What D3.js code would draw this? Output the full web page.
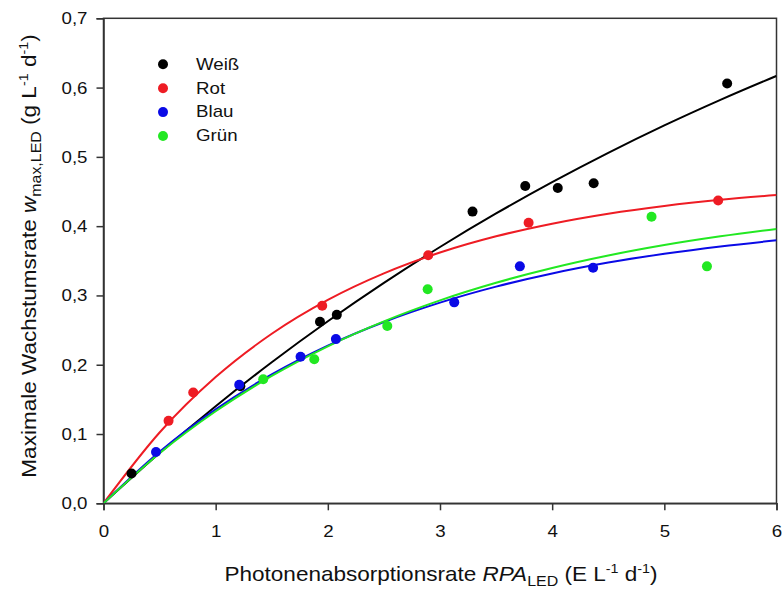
<!DOCTYPE html>
<html><head><meta charset="utf-8">
<script src="https://cdn.jsdelivr.net/npm/d3@7"></script>
<style>body{margin:0;background:#fff}svg{display:block}text{font-family:"Liberation Sans",Arial,sans-serif}</style>
</head><body>
<svg id="c" width="784" height="590"></svg>
<script>
const seriesNames = ["Weiß","Rot","Blau","Grün"];
const seriesColors = ["#000000","#ee1c24","#0a0ae6","#22e822"];
const xTicks = [0,1,2,3,4,5,6];
const yTicks = [0,0.1,0.2,0.3,0.4,0.5,0.6,0.7];

const weissX = [0.25,1.22,1.93,2.08,3.29,3.76,4.05,4.37,5.56];
const weissY = [0.043,0.169,0.262,0.272,0.421,0.458,0.455,0.462,0.606];
const rotX = [0.58,0.80,1.95,2.895,3.79,5.48];
const rotY = [0.119,0.160,0.285,0.358,0.405,0.437];
const blauX = [0.468,1.21,1.757,2.072,3.127,3.712,4.365];
const blauY = [0.074,0.171,0.2115,0.237,0.290,0.342,0.340];
const gruenX = [1.424,1.879,2.53,2.89,4.886,5.38];
const gruenY = [0.179,0.208,0.256,0.309,0.4136,0.342];

const curveX = [0,0.5,1,1.5,2,2.5,3,3.5,4,4.5,5,5.5,6];
const weissFit = [0,0.0725,0.1402,0.2035,0.2627,0.3181,0.3699,0.4183,0.4635,0.5058,0.5454,0.5823,0.6169];
const rotFit = [0,0.1022,0.1822,0.2447,0.2936,0.3319,0.3619,0.3853,0.4036,0.4180,0.4292,0.4380,0.4448];
const blauFit = [0,0.0744,0.1356,0.1860,0.2275,0.2616,0.2896,0.3127,0.3317,0.3474,0.3602,0.3708,0.3795];
const gruenFit = [0,0.0722,0.1328,0.1838,0.2266,0.2626,0.2929,0.3183,0.3396,0.3576,0.3727,0.3853,0.3960];

const pointsX = [weissX,rotX,blauX,gruenX];
const pointsY = [weissY,rotY,blauY,gruenY];
const fits = [weissFit,rotFit,blauFit,gruenFit];

const svg = d3.select("#c");
const L=103.5, R=776.5, T=18.3, B=503.3;
const x = d3.scaleLinear().domain([0,6]).range([L,R]);
const y = d3.scaleLinear().domain([0,0.7]).range([B,T]);
const axisColor = "#333";
const fmt = d => d3.format(".1f")(d).replace(".", ",");
const STRETCH = 1.1;
function stretch(sel){
  sel.each(function(){
    const w = this.getComputedTextLength();
    d3.select(this).attr("textLength", w*STRETCH).attr("lengthAdjust","spacingAndGlyphs");
  });
}

// frame
svg.append("rect").attr("x",L).attr("y",T).attr("width",R-L).attr("height",B-T)
  .attr("fill","none").attr("stroke",axisColor).attr("stroke-width",1.5);

const gx = svg.append("g").attr("transform",`translate(0,${B})`)
  .call(d3.axisBottom(x).tickValues(xTicks).tickFormat(d3.format("d")).tickSize(7).tickPadding(15));
const gy = svg.append("g").attr("transform",`translate(${L},0)`)
  .call(d3.axisLeft(y).tickValues(yTicks).tickFormat(fmt).tickSize(7).tickPadding(9));
[gx,gy].forEach(g=>{
  g.select(".domain").attr("stroke",axisColor).attr("stroke-width",1.5);
  g.selectAll(".tick line").attr("stroke",axisColor).attr("stroke-width",1.5);
  g.selectAll(".tick text").attr("fill","#111").style("font-size","17px").style("font-family","'Liberation Sans',Arial,sans-serif");
  stretch(g.selectAll(".tick text"));
});

// curves
const line = d3.line().x(d=>x(d[0])).y(d=>y(d[1])).curve(d3.curveMonotoneX);
svg.append("clipPath").attr("id","clp").append("rect").attr("x",L).attr("y",T).attr("width",R-L).attr("height",B-T);
const plot = svg.append("g").attr("clip-path","url(#clp)");
fits.forEach((f,i)=>{
  plot.append("path").datum(curveX.map((cx,j)=>[cx,f[j]]))
    .attr("d",line).attr("fill","none").attr("stroke",seriesColors[i]).attr("stroke-width",2);
});
// points
pointsX.forEach((px,i)=>{
  svg.append("g").selectAll("circle").data(px.map((v,j)=>[v,pointsY[i][j]])).join("circle")
    .attr("cx",d=>x(d[0])).attr("cy",d=>y(d[1])).attr("r",5).attr("fill",seriesColors[i]);
});

// legend
const lg = svg.append("g");
seriesNames.forEach((n,i)=>{
  const yy = 64.3 + i*23.9;
  lg.append("circle").attr("cx",163).attr("cy",yy).attr("r",5).attr("fill",seriesColors[i]);
  const t = lg.append("text").attr("x",196).attr("y",yy+5.3).text(n).style("font-size","17px").attr("fill","#111");
  stretch(t);
});

// x axis title
const xt = svg.append("text").attr("transform","translate(441,580.5) scale(1.1,1)").attr("text-anchor","middle")
  .style("font-size","20.5px").attr("fill","#111");
xt.append("tspan").text("Photonenabsorptionsrate ");
xt.append("tspan").text("RPA").style("font-style","italic");
xt.append("tspan").text("LED").attr("dy",5).style("font-size","14.5px");
xt.append("tspan").text(" (E L").attr("dy",-5);
xt.append("tspan").text("-1").attr("dy",-8).style("font-size","13px");
xt.append("tspan").text(" d").attr("dy",8);
xt.append("tspan").text("-1").attr("dy",-8).style("font-size","13px");
xt.append("tspan").text(")").attr("dy",8);

// y axis title
const yt = svg.append("text").attr("transform","translate(36,256) rotate(-90) scale(1.1,1)").attr("text-anchor","middle")
  .style("font-size","20.5px").attr("fill","#111");
yt.append("tspan").text("Maximale Wachstumsrate ");
yt.append("tspan").text("w").style("font-style","italic");
yt.append("tspan").text("max,LED").attr("dy",5).style("font-size","14.5px");
yt.append("tspan").text(" (g L").attr("dy",-5);
yt.append("tspan").text("-1").attr("dy",-8).style("font-size","13px");
yt.append("tspan").text(" d").attr("dy",8);
yt.append("tspan").text("-1").attr("dy",-8).style("font-size","13px");
yt.append("tspan").text(")").attr("dy",8);
</script>
</body></html>
